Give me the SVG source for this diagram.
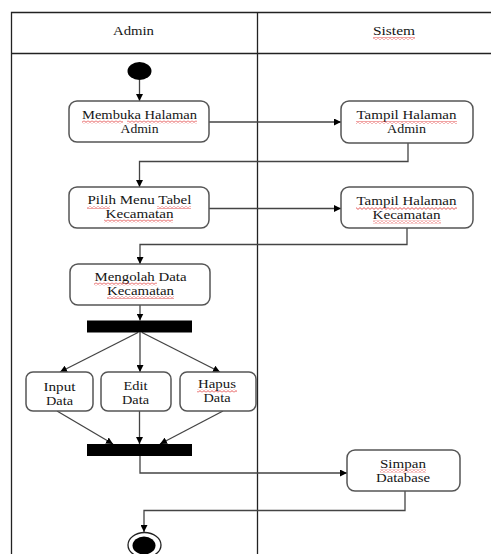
<svg xmlns="http://www.w3.org/2000/svg" width="491" height="554" viewBox="0 0 491 554">
  <style>
    .lane { stroke: #222; stroke-width: 1.3; fill: none; }
    .box { fill: #fff; stroke: #555; stroke-width: 1.5; }
    .lbl { font-family: "Liberation Serif", "Times New Roman", serif; font-size: 13px; fill: #141414; text-anchor: middle; }
    .edge { fill: none; stroke: #444; stroke-width: 1.3; }
    .bar { fill: #000; }
    .spell { fill: url(#squiggle); }
  </style>
  <defs>
    <marker id="arrow" viewBox="0 0 10 10" refX="10" refY="5" markerWidth="7" markerHeight="7" markerUnits="userSpaceOnUse" orient="auto">
      <path d="M0,0 L10,5 L0,10 Z" fill="#000"/>
    </marker>
    <pattern id="squiggle" width="4" height="3" patternUnits="userSpaceOnUse">
      <path d="M0,0.6 L2,2.4 L4,0.6" fill="none" stroke="#e03030" stroke-width="0.8"/>
    </pattern>
  </defs>

  <rect width="491" height="554" fill="#fff"/>

  <!-- swimlane frame -->
  <g id="lanes">
    <path class="lane" d="M11.5,560 V12.5 H491"/>
    <path class="lane" d="M11.5,53.5 H491"/>
    <path class="lane" d="M257.5,12.5 V560"/>
    <text class="lbl" x="133.5" y="35" textLength="41" lengthAdjust="spacingAndGlyphs">Admin</text>
    <text class="lbl" x="394" y="35" textLength="42" lengthAdjust="spacingAndGlyphs">Sistem</text>
    <rect class="spell" x="373" y="37" width="42" height="3"/>
  </g>

  <!-- connectors -->
  <g id="connectors">
    <path class="edge" d="M139.5,80 V101" marker-end="url(#arrow)"/>
    <path class="edge" d="M209,122 H341" marker-end="url(#arrow)"/>
    <path class="edge" d="M408,143 V161.5 H139.5 V187" marker-end="url(#arrow)"/>
    <path class="edge" d="M209,208.5 H341" marker-end="url(#arrow)"/>
    <path class="edge" d="M407,228 V244.5 H140 V264" marker-end="url(#arrow)"/>
    <path class="edge" d="M140,305 V320.5" marker-end="url(#arrow)"/>
    <path class="edge" d="M138,332.5 L60,372" marker-end="url(#arrow)"/>
    <path class="edge" d="M140,332.5 V372" marker-end="url(#arrow)"/>
    <path class="edge" d="M142,332.5 L220,372" marker-end="url(#arrow)"/>
    <path class="edge" d="M57,411 L113,444" marker-end="url(#arrow)"/>
    <path class="edge" d="M139.5,411 V444" marker-end="url(#arrow)"/>
    <path class="edge" d="M223,411 L160,444" marker-end="url(#arrow)"/>
    <path class="edge" d="M140,456 V473 H347" marker-end="url(#arrow)"/>
    <path class="edge" d="M405,491 V510.5 H144 V532" marker-end="url(#arrow)"/>
  </g>

  <g id="start">
    <ellipse cx="139.5" cy="71" rx="12" ry="9" fill="#000"/>
  </g>

  <g id="membuka-halaman-admin">
    <rect class="box" x="69" y="101" width="140" height="41" rx="8"/>
    <text class="lbl" x="139.5" y="118.5" textLength="115" lengthAdjust="spacingAndGlyphs">Membuka Halaman</text>
    <text class="lbl" x="139.5" y="132.5" textLength="38" lengthAdjust="spacingAndGlyphs">Admin</text>
    <rect class="spell" x="82" y="120.5" width="41" height="3"/>
    <rect class="spell" x="127" y="120.5" width="70" height="3"/>
  </g>

  <g id="tampil-halaman-admin">
    <rect class="box" x="341" y="101" width="132" height="42" rx="8"/>
    <text class="lbl" x="406.5" y="119" textLength="100" lengthAdjust="spacingAndGlyphs">Tampil Halaman</text>
    <text class="lbl" x="406.5" y="133" textLength="39" lengthAdjust="spacingAndGlyphs">Admin</text>
    <rect class="spell" x="356" y="121" width="101" height="3"/>
  </g>

  <g id="pilih-menu-tabel">
    <rect class="box" x="69" y="187" width="140" height="41" rx="8"/>
    <text class="lbl" x="139.5" y="204" textLength="104" lengthAdjust="spacingAndGlyphs">Pilih Menu Tabel</text>
    <text class="lbl" x="139.5" y="218" textLength="68" lengthAdjust="spacingAndGlyphs">Kecamatan</text>
    <rect class="spell" x="87" y="206" width="23" height="3"/>
    <rect class="spell" x="157" y="206" width="34" height="3"/>
    <rect class="spell" x="104" y="219.5" width="69" height="3"/>
  </g>

  <g id="tampil-halaman-kecamatan">
    <rect class="box" x="341" y="187" width="132" height="41" rx="8"/>
    <text class="lbl" x="406.5" y="205" textLength="100" lengthAdjust="spacingAndGlyphs">Tampil Halaman</text>
    <text class="lbl" x="406.5" y="219" textLength="68" lengthAdjust="spacingAndGlyphs">Kecamatan</text>
    <rect class="spell" x="356" y="207" width="101" height="3"/>
    <rect class="spell" x="373" y="220.5" width="68" height="3"/>
  </g>

  <g id="mengolah-data">
    <rect class="box" x="70" y="264" width="140" height="41" rx="8"/>
    <text class="lbl" x="140.5" y="280.5" textLength="92" lengthAdjust="spacingAndGlyphs">Mengolah Data</text>
    <text class="lbl" x="140.5" y="294.5" textLength="67" lengthAdjust="spacingAndGlyphs">Kecamatan</text>
    <rect class="spell" x="94" y="282.5" width="63" height="3"/>
    <rect class="spell" x="107" y="296" width="67" height="3"/>
  </g>

  <g id="fork">
    <rect class="bar" x="87" y="320.5" width="105" height="12"/>
  </g>

  <g id="input-data">
    <rect class="box" x="26" y="372" width="67" height="39" rx="7"/>
    <text class="lbl" x="59.5" y="390.5" textLength="32" lengthAdjust="spacingAndGlyphs">Input</text>
    <text class="lbl" x="59.5" y="404.5" textLength="27" lengthAdjust="spacingAndGlyphs">Data</text>
  </g>

  <g id="edit-data">
    <rect class="box" x="101" y="372" width="70" height="39" rx="7"/>
    <text class="lbl" x="135.5" y="389.5" textLength="24" lengthAdjust="spacingAndGlyphs">Edit</text>
    <text class="lbl" x="135.5" y="403.5" textLength="27" lengthAdjust="spacingAndGlyphs">Data</text>
  </g>

  <g id="hapus-data">
    <rect class="box" x="180" y="372" width="76" height="39" rx="7"/>
    <text class="lbl" x="217" y="388" textLength="38" lengthAdjust="spacingAndGlyphs">Hapus</text>
    <text class="lbl" x="217" y="402" textLength="27" lengthAdjust="spacingAndGlyphs">Data</text>
    <rect class="spell" x="197" y="389.5" width="40" height="3"/>
  </g>

  <g id="join">
    <rect class="bar" x="87" y="444" width="105" height="12"/>
  </g>

  <g id="simpan-database">
    <rect class="box" x="347" y="450" width="113" height="41" rx="8"/>
    <text class="lbl" x="403" y="467.5" textLength="46" lengthAdjust="spacingAndGlyphs">Simpan</text>
    <text class="lbl" x="403" y="481.5" textLength="54" lengthAdjust="spacingAndGlyphs">Database</text>
    <rect class="spell" x="380" y="469.5" width="46" height="3"/>
  </g>

  <g id="end">
    <ellipse cx="144.5" cy="545" rx="16.5" ry="12.5" fill="#fff" stroke="#222" stroke-width="1.3"/>
    <ellipse cx="144" cy="545.5" rx="11.5" ry="9" fill="#000"/>
  </g>
</svg>
